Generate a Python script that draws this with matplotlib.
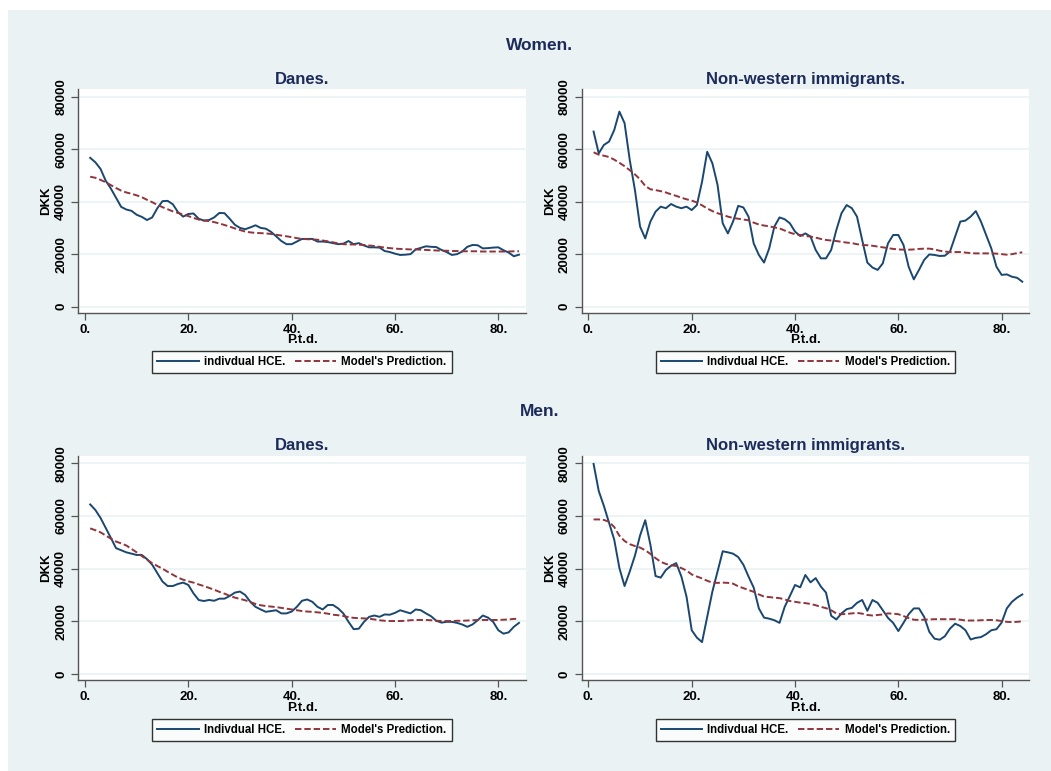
import matplotlib
matplotlib.use("Agg")
import matplotlib.pyplot as plt
from matplotlib.patches import Rectangle

periods = list(range(1, 85))
x_ticks = [0, 20, 40, 60, 80]
x_tick_labels = ["0.", "20.", "40.", "60.", "80."]
y_ticks = [0, 20000, 40000, 60000, 80000]
y_tick_labels = ["0", "20000", "40000", "60000", "80000"]

women_danes_hce = [56700, 55000, 52500, 48000, 45000, 41500, 38000, 37000, 36500, 35000,
                   34200, 33000, 34000, 37500, 40200, 40300, 39000, 36000, 34300, 35300,
                   35500, 33500, 32800, 33000, 34000, 35700, 35600, 33500, 31200, 30000,
                   29500, 30200, 31000, 30000, 29700, 28500, 26800, 25000, 23800, 23800,
                   24800, 25800, 25800, 25800, 24800, 24800, 24600, 24200, 23800, 24000,
                   25000, 23800, 24200, 23300, 22600, 22600, 22500, 21200, 20800, 20200,
                   19700, 19800, 20000, 21800, 22400, 23000, 22800, 22700, 21600, 20800,
                   19700, 20000, 21000, 22800, 23500, 23400, 22200, 22300, 22500, 22600,
                   21500, 20600, 19200, 19800]
women_danes_pred = [49500, 49100, 48300, 47400, 46300, 45200, 44200, 43500, 43000, 42400,
                    41700, 40700, 39800, 38800, 37900, 37100, 36300, 35700, 35100, 34500,
                    33800, 33200, 32800, 32600, 32200, 31700, 31100, 30500, 29800, 29200,
                    28600, 28300, 28100, 28000, 27900, 27700, 27400, 27100, 26800, 26500,
                    26100, 25800, 25700, 25600, 25500, 25200, 24900, 24500, 24100, 23800,
                    23700, 23700, 23600, 23500, 23300, 23100, 22800, 22500, 22300, 22100,
                    22000, 21900, 21800, 21800, 21700, 21600, 21500, 21400, 21300, 21300,
                    21200, 21200, 21100, 21100, 21100, 21100, 21000, 21000, 21000, 21000,
                    21000, 21000, 21100, 21100]

women_nw_hce = [66700, 58400, 61600, 62900, 67300, 74300, 69900, 55900, 44500, 30500,
                26000, 32400, 36200, 38100, 37500, 39100, 38100, 37500, 38100, 36800,
                38700, 47600, 59000, 54600, 46400, 31750, 27900, 32400, 38400, 37800,
                34300, 24100, 19700, 16800, 22200, 30500, 34000, 33300, 31750, 28600,
                26900, 27900, 26700, 21600, 18400, 18400, 21600, 29200, 35600, 38700,
                37500, 34300, 25400, 16800, 14900, 14000, 16500, 24100, 27300, 27300,
                23500, 15200, 10400, 14000, 17800, 19900, 19700, 19300, 19400, 21000,
                26700, 32400, 32800, 34300, 36400, 32400, 27300, 22200, 15200, 12100,
                12300, 11400, 11000, 9500]
women_nw_pred = [58800, 57900, 57500, 57000, 56000, 54800, 53500, 52000, 50400, 48500,
                 46000, 44700, 44400, 44000, 43500, 42800, 42200, 41500, 40900, 40400,
                 39700, 38600, 37400, 36400, 35600, 35000, 34300, 33800, 33500, 33200,
                 32900, 32000, 31300, 30900, 30600, 30200, 29800, 29000, 28200, 27600,
                 27300, 26900, 26700, 26300, 25800, 25400, 25200, 25000, 24700, 24400,
                 24200, 23800, 23500, 23400, 23200, 22900, 22600, 22300, 22000, 21800,
                 21700, 21700, 21800, 22000, 22100, 22100, 21800, 21300, 21000, 20800,
                 20800, 20800, 20600, 20400, 20300, 20300, 20300, 20300, 20200, 20000,
                 19800, 20000, 20400, 20700]

men_danes_hce = [64400, 62300, 59300, 55500, 51700, 47800, 47000, 46200, 45700, 45200,
                 45200, 43600, 41500, 38300, 35100, 33400, 33400, 34200, 34700, 33800,
                 30600, 28100, 27700, 28100, 27800, 28600, 28600, 29600, 30900, 31300,
                 30000, 27400, 25500, 24500, 23600, 23900, 24200, 23000, 23000, 23700,
                 25500, 27800, 28300, 27400, 25500, 24500, 26200, 26200, 24900, 23000,
                 19800, 17000, 17200, 19800, 21700, 22200, 21700, 22600, 22500, 23200,
                 24200, 23600, 23000, 24500, 24200, 23000, 21900, 20200, 19500, 19800,
                 19800, 19400, 18800, 17900, 18800, 20400, 22200, 21400, 19800, 16600,
                 15300, 15800, 17900, 19400]
men_danes_pred = [55300, 54600, 53800, 52600, 51400, 50300, 49600, 48800, 47500, 46200,
                  44800, 43400, 42100, 41000, 40000, 38800, 37700, 36600, 35800, 35200,
                  34700, 34000, 33400, 32700, 32000, 31200, 30500, 29700, 29000, 28500,
                  28000, 27300, 26600, 26100, 25800, 25600, 25400, 25100, 24800, 24500,
                  24200, 23900, 23700, 23600, 23400, 23200, 22900, 22500, 22300, 22000,
                  21600, 21300, 21200, 21100, 21000, 20700, 20400, 20200, 20100, 20100,
                  20100, 20200, 20400, 20500, 20500, 20500, 20400, 20200, 20100, 20100,
                  20100, 20200, 20200, 20300, 20400, 20500, 20500, 20500, 20500, 20500,
                  20600, 20700, 20900, 21000]

men_nw_hce = [79800, 69500, 63800, 57400, 51000, 40200, 33400, 38900, 44900, 52600,
              58400, 49100, 37200, 36600, 39500, 41100, 42100, 37000, 29300, 16600,
              13800, 12100, 21700, 31300, 38900, 46600, 46200, 45700, 44400, 41500,
              37000, 32800, 24900, 21400, 21000, 20400, 19400, 25500, 29600, 33800,
              32900, 37600, 34800, 36400, 33200, 30900, 22100, 20700, 23000, 24600,
              25100, 27000, 28100, 24000, 28100, 27000, 24200, 21300, 19400, 16300,
              19400, 22700, 24900, 24900, 21700, 16000, 13400, 13000, 14300, 17200,
              19100, 18200, 16600, 13100, 13700, 14000, 15100, 16600, 17000, 19500,
              24900, 27400, 29000, 30200]
men_nw_pred = [58700, 58700, 58500, 57800, 55800, 52500, 50500, 49300, 48600, 48000,
               47000, 45600, 44000, 42600, 41800, 41300, 41000, 40200, 39300, 37800,
               37000, 36300, 35400, 34700, 34600, 34700, 34600, 34300, 33300, 32600,
               31900, 31200, 30200, 29400, 29200, 29000, 28800, 28300, 27700, 27400,
               27100, 26900, 26600, 26100, 25500, 25000, 24200, 23000, 22700, 22800,
               23000, 23200, 22900, 22400, 22200, 22400, 22600, 23000, 22900, 22700,
               22000, 21200, 20600, 20500, 20600, 20700, 20800, 20800, 20800, 20800,
               20800, 20600, 20300, 20300, 20300, 20400, 20500, 20500, 20400, 20100,
               19800, 19700, 19800, 20000]

BG = "#eaf2f3"
NAVY = "#1a476f"
MAROON = "#90353b"
TITLE = "#1c2b5a"
FONT = "Liberation Sans"

W, H = 1051, 771
fig = plt.figure(figsize=(W / 100, H / 100), dpi=100)
fig.patch.set_facecolor("white")
fig.add_artist(Rectangle((8 / W, 0), 1 - 8 / W, 1 - 10 / H, transform=fig.transFigure,
                         facecolor=BG, edgecolor="none", zorder=-10))


def make_axes(l, t, r, b):
    return fig.add_axes([l / W, 1 - b / H, (r - l) / W, (b - t) / H])


panels = [
    (make_axes(78.3, 89.3, 525.7, 312.7), "Danes.", women_danes_hce, women_danes_pred, "indivdual HCE."),
    (make_axes(581.7, 89.3, 1029, 312.7), "Non-western immigrants.", women_nw_hce, women_nw_pred, "Indivdual HCE."),
    (make_axes(78.3, 456, 525.7, 680), "Danes.", men_danes_hce, men_danes_pred, "Indivdual HCE."),
    (make_axes(581.7, 456, 1029, 680), "Non-western immigrants.", men_nw_hce, men_nw_pred, "Indivdual HCE."),
]

for ax, title, hce, pred, lab in panels:
    ax.set_facecolor("white")
    for y in y_ticks:
        ax.axhline(y, color=BG, lw=1.2, zorder=0)
    l1, = ax.plot(periods, hce, color=NAVY, lw=1.4, zorder=3)
    l2, = ax.plot(periods, pred, color=MAROON, lw=1.4, dashes=(3.3, 1.5), zorder=3)
    ax.set_xlim(-1.3, 85.3)
    ax.set_ylim(-2300, 82800)
    ax.set_xticks(x_ticks)
    ax.set_xticklabels(x_tick_labels, fontsize=9.5, fontweight="bold", family=FONT)
    ax.set_yticks(y_ticks)
    ax.set_yticklabels(y_tick_labels, fontsize=9.5, fontweight="bold", family=FONT,
                       rotation=90, va="center")
    ax.tick_params(axis="both", direction="out", length=5, width=0.9, color="#555555", pad=3)
    for s in ("top", "right"):
        ax.spines[s].set_visible(False)
    for s in ("left", "bottom"):
        ax.spines[s].set_color("#555555")
        ax.spines[s].set_linewidth(1.0)
    ax.set_xlabel("P.t.d.", fontsize=9.5, fontweight="bold", family=FONT, labelpad=-1)
    ax.set_ylabel("DKK", fontsize=9.5, fontweight="bold", family=FONT, labelpad=2)
    ax.set_title(title, fontsize=12, color=TITLE, family=FONT, fontweight="bold", pad=4)
    leg = ax.legend([l1, l2], [lab, "Model's Prediction."], loc="upper center",
                    bbox_to_anchor=(0.5, -0.172), ncol=2, frameon=True, fancybox=False,
                    prop={"family": FONT, "weight": "bold", "size": 8.3},
                    handlelength=3.6, handletextpad=0.45, columnspacing=0.8,
                    borderpad=0.45, borderaxespad=0, edgecolor="black")
    leg.get_frame().set_linewidth(1.0)

fig.text(540 / W, 1 - 45 / H, "Women.", ha="center", va="center", fontsize=12.5,
         color=TITLE, family=FONT, fontweight="bold")
fig.text(540 / W, 1 - 411 / H, "Men.", ha="center", va="center", fontsize=12.5,
         color=TITLE, family=FONT, fontweight="bold")

fig.savefig("out.png", dpi=100, facecolor="white")
